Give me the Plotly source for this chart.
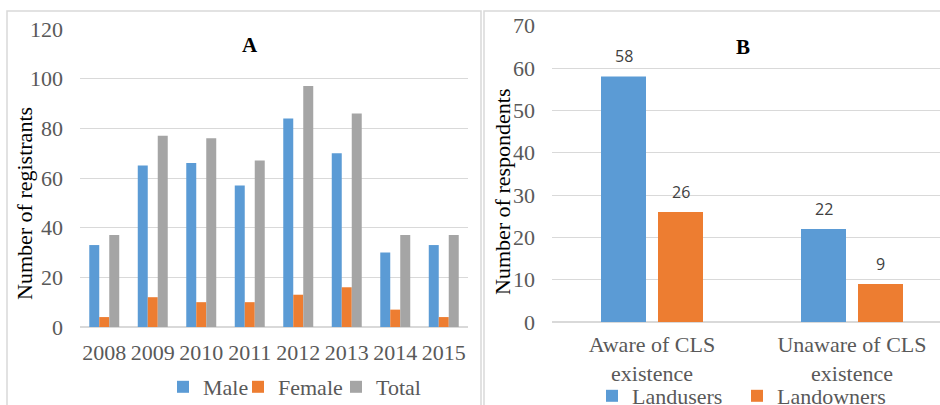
import plotly.graph_objects as go

# Panel A: registrations by year
years = ["2008", "2009", "2010", "2011", "2012", "2013", "2014", "2015"]
male = [33, 65, 66, 57, 84, 70, 30, 33]
female = [4, 12, 10, 10, 13, 16, 7, 4]
total = [37, 77, 76, 67, 97, 86, 37, 37]

# Panel B: awareness of CLS
awareness = ["Aware of CLS<br>existence", "Unaware of CLS<br>existence"]
landusers = [58, 22]
landowners = [26, 9]

BLUE = "#5B9BD5"
ORANGE = "#ED7D31"
GRAY = "#A5A5A5"
GRID = "#D9D9D9"
TICK = "#595959"
SERIF = "Liberation Serif, Times New Roman, serif"
SANS = "Open Sans, Liberation Sans, sans-serif"

W, H = 940, 405


def px_x(x):
    return x / W


def px_y(y):
    return (H - y) / H


fig = go.Figure()

# each series gets its own one-entry legend so the keys can sit tightly
# side by side under each panel: legend id -> (symbol centre x, centre y)
legend_spots = {}

# --- Panel A bars
bw_a = 0.206
for name, vals, col, off, lg, lx in [
    ("Male", male, BLUE, -0.309, "legend", 183),
    ("Female", female, ORANGE, -0.103, "legend2", 258),
    ("Total", total, GRAY, 0.103, "legend3", 356),
]:
    fig.add_trace(go.Bar(
        x=years, y=vals, name=name, marker_color=col, marker_line_width=0,
        width=bw_a, offset=off, xaxis="x", yaxis="y", legend=lg,
        showlegend=True,
    ))
    legend_spots[lg] = (lx, 387)

# --- Panel B bars
bw_b = 0.225
for name, vals, col, off, lg, lx in [
    ("Landusers", landusers, BLUE, -0.255, "legend4", 612),
    ("Landowners", landowners, ORANGE, 0.03, "legend5", 757),
]:
    fig.add_trace(go.Bar(
        x=awareness, y=vals, name=name, marker_color=col, marker_line_width=0,
        width=bw_b, offset=off, xaxis="x2", yaxis="y2", legend=lg,
        showlegend=True,
    ))
    legend_spots[lg] = (lx, 396)

annotations = []
# value labels above panel B bars
for vals, off in [(landusers, -0.255), (landowners, 0.03)]:
    for i, v in enumerate(vals):
        annotations.append(dict(
            x=i + off + bw_b / 2, y=v, xref="x2", yref="y2", text=str(v),
            showarrow=False, xanchor="center", yanchor="middle", yshift=20,
            font=dict(family=SANS, size=16, color="#404040"),
        ))


def paper_text(x, y, text, size, angle=0, color="black"):
    return dict(x=px_x(x), y=px_y(y), xref="paper", yref="paper", text=text,
                textangle=angle, showarrow=False,
                xanchor="center", yanchor="middle",
                font=dict(family=SERIF, size=size, color=color))


# panel letters
annotations.append(paper_text(250, 45, "<b>A</b>", 21))
annotations.append(paper_text(743, 47, "<b>B</b>", 21))

# y axis titles
annotations.append(paper_text(24, 204, "Number of registrants", 22, -90))
annotations.append(paper_text(502, 192, "Number of respondents", 22, -90))

# panel frames
shapes = [
    dict(type="rect", xref="paper", yref="paper",
         x0=px_x(7), x1=px_x(481), y0=-0.05, y1=px_y(11),
         line=dict(color=GRID, width=1.5), layer="below"),
    dict(type="rect", xref="paper", yref="paper",
         x0=px_x(484), x1=1.05, y0=-0.05, y1=px_y(11),
         line=dict(color=GRID, width=1.5), layer="below"),
]

tickfont = dict(family=SERIF, size=22, color=TICK)

legends = {}
for lg, (lx, ly) in legend_spots.items():
    legends[lg] = dict(
        orientation="h", x=px_x(lx - 20), y=px_y(ly),
        xanchor="left", yanchor="middle",
        font=dict(family=SERIF, size=22, color=TICK),
        bgcolor="rgba(0,0,0,0)", borderwidth=0, itemwidth=30,
    )

fig.update_layout(
    width=W, height=H,
    margin=dict(l=0, r=0, t=0, b=0, autoexpand=False),
    paper_bgcolor="white", plot_bgcolor="white",
    barmode="group",
    showlegend=True,
    xaxis=dict(domain=[px_x(80), px_x(468)], range=[-0.5, 7.5],
               tickfont=tickfont, showgrid=False, showline=False,
               ticks="", ticklabelstandoff=10, anchor="y"),
    yaxis=dict(domain=[px_y(327), px_y(29)], range=[0, 120], dtick=20,
               tickfont=tickfont, gridcolor=GRID, gridwidth=1,
               zeroline=True, zerolinecolor=GRID, zerolinewidth=1.5,
               showline=False, ticks="", ticklabelstandoff=16, anchor="x"),
    xaxis2=dict(domain=[px_x(552), 1.0], range=[-0.5, 1.44],
                tickfont=tickfont, showgrid=False, showline=False,
                ticks="", ticklabelstandoff=7, anchor="y2"),
    yaxis2=dict(domain=[px_y(322), px_y(25.7)], range=[0, 70], dtick=10,
                tickfont=tickfont, gridcolor=GRID, gridwidth=1,
                zeroline=True, zerolinecolor=GRID, zerolinewidth=1.5,
                showline=False, ticks="", ticklabelstandoff=16, anchor="x2"),
    annotations=annotations,
    shapes=shapes,
    **legends,
)

fig.write_html("out.html")
